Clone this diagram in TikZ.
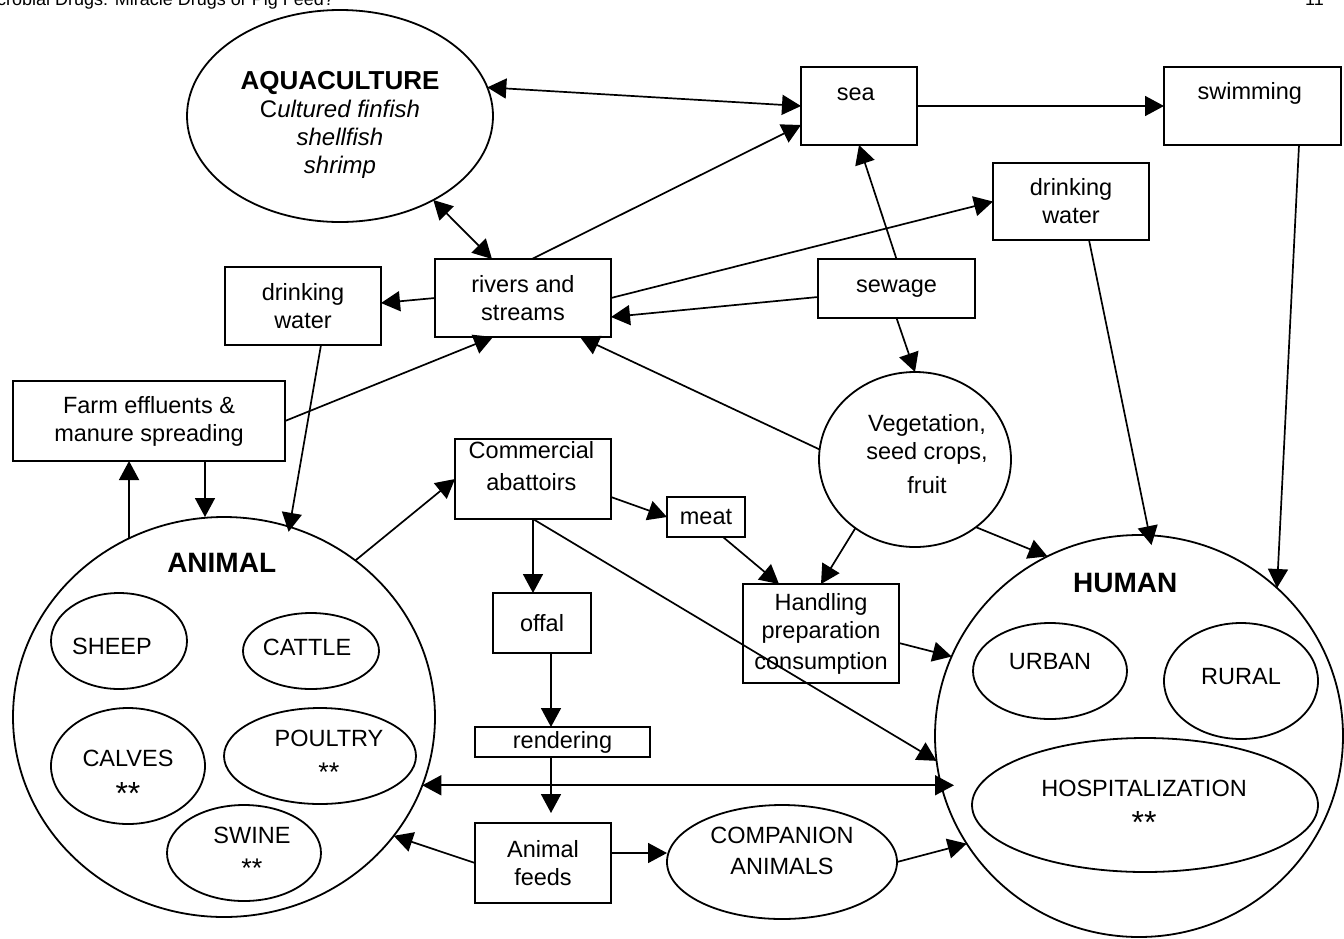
\documentclass[tikz,border=0pt]{standalone}
\usepackage{fontspec}
\setmainfont{Liberation Sans}
\usetikzlibrary{arrows.meta,shapes.geometric,calc}
\newcommand\myfs{\fontsize{23.5}{28}\selectfont}
\newcommand\bigast{{\fontsize{32}{32}\selectfont **}}
\newcommand\midast{{\fontsize{27}{27}\selectfont **}}
\begin{document}
\begin{tikzpicture}[x=1pt,y=-1pt,
  >={Triangle[length=19pt,width=20pt]},
  box/.style={draw, line width=2.2pt, rectangle, inner sep=0pt, outer sep=0pt, align=center, font=\myfs},
  ell/.style={draw, line width=1.8pt, ellipse, inner sep=0pt, outer sep=0pt},
  txt/.style={align=center, inner sep=0pt, font=\myfs},
  con/.style={line width=1.7pt, ->},
  dcon/.style={line width=1.7pt, <->},
  hdr/.style={font=\fontsize{18}{20}\selectfont, inner sep=0pt},
]
\path[use as bounding box] (0,0) rectangle (1344,938);
\clip (0,0) rectangle (1344,938);

% header (cut off at the top of the page)
\node[hdr, anchor=base west] (title) at (-3,5) {crobial Drugs: Miracle Drugs or Pig Feed?};
\node[hdr, anchor=base west] (pageno) at (1305,5) {11};

% big ellipses / circles
\node[ell, minimum width=306pt, minimum height=212pt,
  label={[txt, yshift=-9.4pt]center:{{\fontsize{26}{28}\selectfont\bfseries AQUACULTURE}\\{\fontsize{24}{28}\selectfont C\textit{ultured finfish}}\\{\fontsize{24}{28}\selectfont\textit{shellfish}}\\{\fontsize{24}{28}\selectfont\textit{shrimp}}}}] (aqua) at (340,116) {};
\node[ell, minimum width=192pt, minimum height=175pt,
  label={[txt, xshift=12pt, yshift=5.5pt]center:{Vegetation,\\seed crops,\\[6pt]fruit}}] (veg) at (915,459.5) {};
\node[ell, minimum width=422pt, minimum height=400pt,
  label={[txt, font=\fontsize{28}{30}\selectfont\bfseries, xshift=-2.3pt, yshift=154.3pt]center:ANIMAL}] (animal) at (224,717) {};
\node[ell, minimum width=408pt, minimum height=402pt,
  label={[txt, font=\fontsize{28}{30}\selectfont\bfseries, xshift=-13.7pt, yshift=153.5pt]center:HUMAN}] (human) at (1139,736) {};

% animal groups
\node[ell, minimum width=136pt, minimum height=96pt,
  label={[txt, xshift=-7pt, yshift=-5.7pt]center:SHEEP}] (sheep) at (119,641) {};
\node[ell, minimum width=136pt, minimum height=76pt,
  label={[txt, xshift=-4pt, yshift=4pt]center:CATTLE}] (cattle) at (311,651) {};
\node[ell, minimum width=154pt, minimum height=116pt,
  label={[txt, yshift=-11pt]center:{CALVES\\[10pt]\bigast}}] (calves) at (128,766) {};
\node[ell, minimum width=192pt, minimum height=96pt,
  label={[txt, xshift=9pt]center:{POULTRY\\[7.3pt]\midast}}] (poultry) at (320,756) {};
\node[ell, minimum width=154pt, minimum height=96pt,
  label={[txt, xshift=8pt, yshift=1pt]center:{SWINE\\[6.3pt]\midast}}] (swine) at (244,853) {};

% human groups
\node[ell, minimum width=154pt, minimum height=96pt,
  label={[txt, yshift=9pt]center:URBAN}] (urban) at (1050,671) {};
\node[ell, minimum width=154pt, minimum height=116pt,
  label={[txt, yshift=4pt]center:RURAL}] (rural) at (1241,681) {};
\node[ell, minimum width=346pt, minimum height=134pt,
  label={[txt, xshift=-1pt, yshift=-2pt]center:{HOSPITALIZATION\\[9pt]\bigast}}] (hosp) at (1145,805) {};

% companion animals
\node[ell, minimum width=230pt, minimum height=114pt,
  label={[txt, yshift=11pt]center:{COMPANION\\[3.7pt]ANIMALS}}] (comp) at (782,862) {};

% boxes
\node[box, minimum width=116pt, minimum height=78pt,
  label={[txt, xshift=-3.3pt, yshift=12.2pt]center:sea}] (sea) at (859,106) {};
\node[box, minimum width=177pt, minimum height=78pt,
  label={[txt, xshift=-2.7pt, yshift=12.2pt]center:swimming}] (swim) at (1252.5,106) {};
\node[box, minimum width=156pt, minimum height=77pt] (dwR) at (1071,201.5) {drinking\\water};
\node[box, minimum width=157pt, minimum height=59pt] (sewage) at (896.5,288.5) {sewage};
\node[box, minimum width=176pt, minimum height=78pt] (rivers) at (523,298) {rivers and\\streams};
\node[box, minimum width=156pt, minimum height=78pt] (dwL) at (303,306) {drinking\\water};
\node[box, minimum width=272pt, minimum height=80pt] (farm) at (149,421) {Farm effluents \&\\manure spreading};
\node[box, minimum width=156pt, minimum height=80pt,
  label={[txt, xshift=-1.6pt, yshift=13pt]center:{Commercial\\[3.4pt]abattoirs}}] (comm) at (533,479) {};
\node[box, minimum width=78pt, minimum height=40pt] (meat) at (706,517) {meat};
\node[box, minimum width=98pt, minimum height=60pt] (offal) at (542,623) {offal};
\node[box, minimum width=156pt, minimum height=99pt] (handling) at (821,633.5) {Handling\\preparation\\[3pt]consumption};
\node[box, minimum width=175pt, minimum height=30pt] (rendering) at (562.5,742) {rendering};
\node[box, minimum width=136pt, minimum height=80pt] (feeds) at (543,863) {Animal\\feeds};

% connectors
\draw[dcon] (aqua.11.3) -- (sea.west);
\draw[con] ([xshift=9pt]rivers.north) -- ([yshift=-19pt]sea.west);
\draw[dcon] (aqua.-42.2) -- ([xshift=-31pt]rivers.north);
\draw[con] (sea.east) -- (swim.west);
\draw[con] (sewage.north) -- (sea.south);
\draw[con] (rivers.east) -- (dwR.west);
\draw[con] ([yshift=-8.5pt]sewage.west) -- ([yshift=-19pt]rivers.east);
\draw[con] (sewage.south) -- (veg.north);
\draw[con, shorten >=-10pt] ([xshift=18pt]dwR.south) -- (human.87.6);
\draw[con] ([xshift=46.5pt]swim.south) -- (human.47.3);
\draw[con] (veg.-48.6) -- (human.117.7);
\draw[con] (veg.229.6) -- (handling.north);
\draw[con] (veg.174) -- ([xshift=57pt]rivers.south);
\draw[con] ([yshift=-9.5pt]handling.east) -- (human.157.4);
\draw[con] ([yshift=-18pt]comm.east) -- (meat.west);
\draw[con] ([xshift=17pt]meat.south) -- ([xshift=-42pt]handling.north);
\draw[con] (comm.south) -- (comm.south |- offal.north);
\coordinate (oc) at ([xshift=9pt]offal.south);
\draw[con] (oc) -- (oc |- rendering.north);
\draw[con, shorten >=10pt] (oc |- rendering.south) -- (oc |- feeds.north);
\draw[con] (comm.south) -- (human.187.7);
\draw[con] (animal.50.7) -- (comm.west);
\coordinate (ah) at (animal.-19.3);
\draw[dcon] (ah) -- ($(human.west |- ah)+(19pt,0pt)$);
\draw[con] (feeds.west) -- (animal.-35.9);
\draw[con] ($(feeds.east)+(0pt,10pt)$) -- ($(feeds.east -| comp.west)+(0pt,10pt)$);
\draw[con] (comp.east) -- (human.212.5);
\draw[con, shorten >=-5pt] ([xshift=18pt]dwL.south) -- (animal.71.75);
\draw[con] (rivers.west) -- ([yshift=3pt]dwL.east);
\draw[con] (farm.east) -- ([xshift=-30pt]rivers.south);
\coordinate (fa) at ([xshift=56pt]farm.south);
\draw[con] (fa) -- (fa |- animal.north);
\coordinate (af) at (animal.118.3);
\draw[con] (af) -- (af |- farm.south);
\end{tikzpicture}
\end{document}
